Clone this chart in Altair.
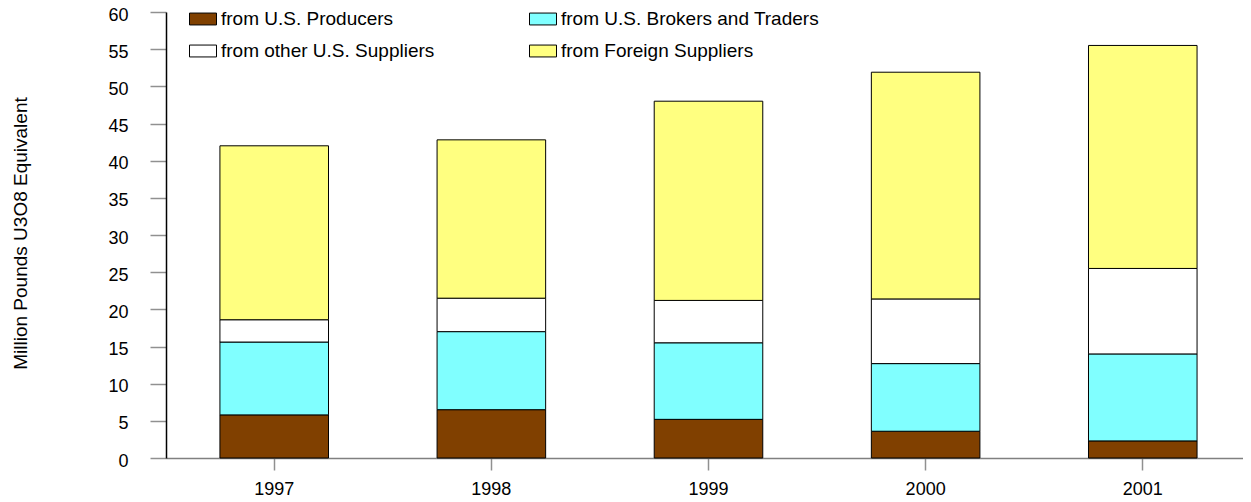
import altair as alt
import pandas as pd

years = ["1997", "1998", "1999", "2000", "2001"]
series = [
    "from U.S. Producers",
    "from U.S. Brokers and Traders",
    "from other U.S. Suppliers",
    "from Foreign Suppliers",
]
producers = [5.8, 6.5, 5.2, 3.6, 2.3]
brokers = [9.8, 10.5, 10.3, 9.1, 11.7]
other = [3.0, 4.5, 5.7, 8.7, 11.5]
foreign = [23.4, 21.3, 26.8, 30.5, 30.0]
colors = ["#804000", "#80FFFF", "#FFFFFF", "#FFFF80"]

# legend is laid out column by column, so list entries in column order
legend_order = [series[0], series[2], series[1], series[3]]
legend_colors = [colors[0], colors[2], colors[1], colors[3]]

rows = []
for vals, name, k in zip([producers, brokers, other, foreign], series, range(4)):
    for y, v in zip(years, vals):
        rows.append({"year": y, "series": name, "value": v, "order": k})
df = pd.DataFrame(rows)

FONT = "Liberation Sans"

chart = (
    alt.Chart(df)
    .mark_bar(stroke="#000000", strokeWidth=1)
    .encode(
        x=alt.X(
            "year:N",
            sort=years,
            scale=alt.Scale(paddingInner=0.5, paddingOuter=0.23, align=0.54),
            axis=alt.Axis(
                title=None,
                labelAngle=0,
                labelFont=FONT,
                labelFontSize=18,
                labelColor="#000000",
                labelPadding=10,
                domainColor="#808080",
                domainWidth=1.5,
                tickColor="#909090",
                tickSize=12,
                tickWidth=1.5,
            ),
        ),
        y=alt.Y(
            "value:Q",
            stack="zero",
            scale=alt.Scale(domain=[0, 60], nice=False),
            axis=alt.Axis(
                title="Million Pounds U3O8 Equivalent",
                values=list(range(0, 61, 5)),
                grid=False,
                labelFont=FONT,
                labelFontSize=18,
                labelColor="#000000",
                labelPadding=22,
                labelOffset=3,
                domainColor="#000000",
                domainWidth=1.5,
                tickColor="#909090",
                tickSize=16,
                tickWidth=1.5,
                titleFont=FONT,
                titleFontSize=19,
                titleFontWeight="normal",
                titleColor="#000000",
                titleAngle=270,
                titleAlign="center",
                titleBaseline="alphabetic",
                titleX=-140,
                titleY=221,
            ),
        ),
        color=alt.Color(
            "series:N",
            scale=alt.Scale(domain=legend_order, range=legend_colors),
            legend=alt.Legend(
                title=None,
                orient="none",
                legendX=23,
                legendY=-7,
                columns=2,
                columnPadding=92,
                rowPadding=8,
                symbolType="M-1,-0.44L1,-0.44L1,0.44L-1,0.44Z",
                symbolSize=729,
                symbolStrokeColor="#000000",
                symbolStrokeWidth=1,
                symbolOpacity=1,
                labelFont=FONT,
                labelFontSize=19,
                labelColor="#000000",
                labelOffset=4,
                labelLimit=400,
            ),
        ),
        order=alt.Order("order:Q", sort="ascending"),
    )
    .properties(
        width=1077,
        height=446,
        autosize=alt.AutoSizeParams(type="none"),
        padding={"left": 158, "top": 4, "right": 0, "bottom": 42},
    )
    .configure_view(stroke=None)
)

chart.save("out.html", embed_options={"renderer": "svg", "actions": False})
